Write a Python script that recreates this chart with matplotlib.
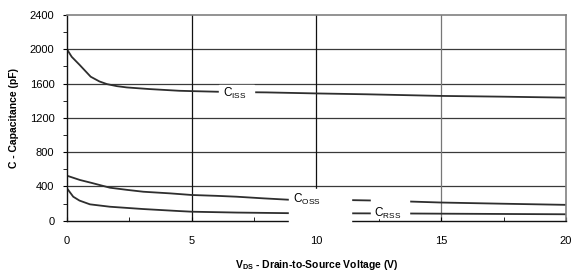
import numpy as np
import matplotlib
matplotlib.use('Agg')
import matplotlib.pyplot as plt
from matplotlib.patches import Rectangle

plt.rcParams['font.family'] = 'Liberation Sans'
plt.rcParams['mathtext.fontset'] = 'custom'
plt.rcParams['mathtext.rm'] = 'Liberation Sans'
plt.rcParams['mathtext.bf'] = 'Liberation Sans:bold'

# data
ciss_x = [0, 0.19, 0.5, 0.95, 1.3, 1.6, 2.0, 2.4, 3.3, 4.5, 5.0, 6.0, 7.0, 8.0, 9.0, 10, 12, 15, 17.5, 20]
ciss_y = [2000, 1912, 1820, 1680, 1625, 1594, 1570, 1555, 1536, 1516, 1512, 1505, 1500, 1497, 1491, 1485, 1475, 1456, 1447, 1436]

coss_x = [0, 0.52, 1.0, 1.72, 2.4, 3.06, 4.13, 5.0, 6.0, 6.8, 7.86, 8.87, 10, 11.4, 12.2, 13.7, 15, 17.5, 20]
coss_y = [525, 475, 440, 385, 360, 338, 319, 300, 290, 280, 261, 245, 242, 240, 236, 224, 212, 198, 185]

crss_x = [0, 0.25, 0.5, 0.92, 1.72, 3.06, 4.46, 5.0, 6.8, 8.87, 10, 11.4, 13.7, 15, 20]
crss_y = [378, 280, 235, 191, 163, 136, 113, 105, 95, 88, 87, 86, 84, 82, 75]

fig = plt.figure(figsize=(5.74, 2.71), dpi=100)
ax = fig.add_axes([0.1167, 0.1856, 0.8693, 0.759])

lc = '#2e2e2e'
ax.plot(ciss_x, ciss_y, color=lc, lw=1.3, zorder=2)
ax.plot(coss_x, coss_y, color=lc, lw=1.3, zorder=2)
ax.plot(crss_x, crss_y, color=lc, lw=1.3, zorder=2)

ax.set_xlim(0, 20)
ax.set_ylim(0, 2400)
ax.set_xticks([0, 5, 10, 15, 20])
ax.set_yticks(np.arange(0, 2401, 400))
ax.set_xticks([2.5, 7.5, 12.5, 17.5], minor=True)
ax.set_yticks(np.arange(200, 2400, 400), minor=True)
ax.tick_params(axis='x', which='both', direction='in', length=3, pad=11, labelsize=8)
ax.tick_params(axis='y', which='both', direction='out', length=3, pad=6, labelsize=8)

for v in [400, 800, 1200, 1600, 2000]:
    ax.axhline(v, color='#3a3a3a', lw=0.9, zorder=1)
ax.axvline(5, color='#111111', lw=0.9, zorder=1)
ax.axvline(10, color='#111111', lw=0.9, zorder=1)
ax.axvline(15, color='#777777', lw=0.9, zorder=1)

for s in ['top', 'right']:
    ax.spines[s].set_color('#808080')
    ax.spines[s].set_linewidth(1.2)
for s in ['left', 'bottom']:
    ax.spines[s].set_color('#111111')
    ax.spines[s].set_linewidth(1.0)

# white label boxes that break the curves
ax.add_patch(Rectangle((6.1, 1420), 1.4, 160, color='white', zorder=3))
ax.add_patch(Rectangle((8.9, -40), 2.5, 410, color='white', zorder=3, clip_on=False))
ax.add_patch(Rectangle((12.2, 30), 1.5, 250, color='white', zorder=3))

ax.text(6.25, 1490, r'C$_{\mathregular{ISS}}$', fontsize=8.5, va='center', zorder=4)
ax.text(9.05, 250, r'C$_{\mathregular{OSS}}$', fontsize=8.5, va='center', zorder=4)
ax.text(12.3, 90, r'C$_{\mathregular{RSS}}$', fontsize=8.5, va='center', zorder=4)

ax.set_xlabel(r'$\mathbf{V_{DS}}$ - Drain-to-Source Voltage (V)', fontsize=7.5, fontweight='bold', labelpad=9)
ax.set_ylabel('C - Capacitance (pF)', fontsize=7.5, fontweight='bold', labelpad=8)

plt.savefig('out.png', dpi=100)
